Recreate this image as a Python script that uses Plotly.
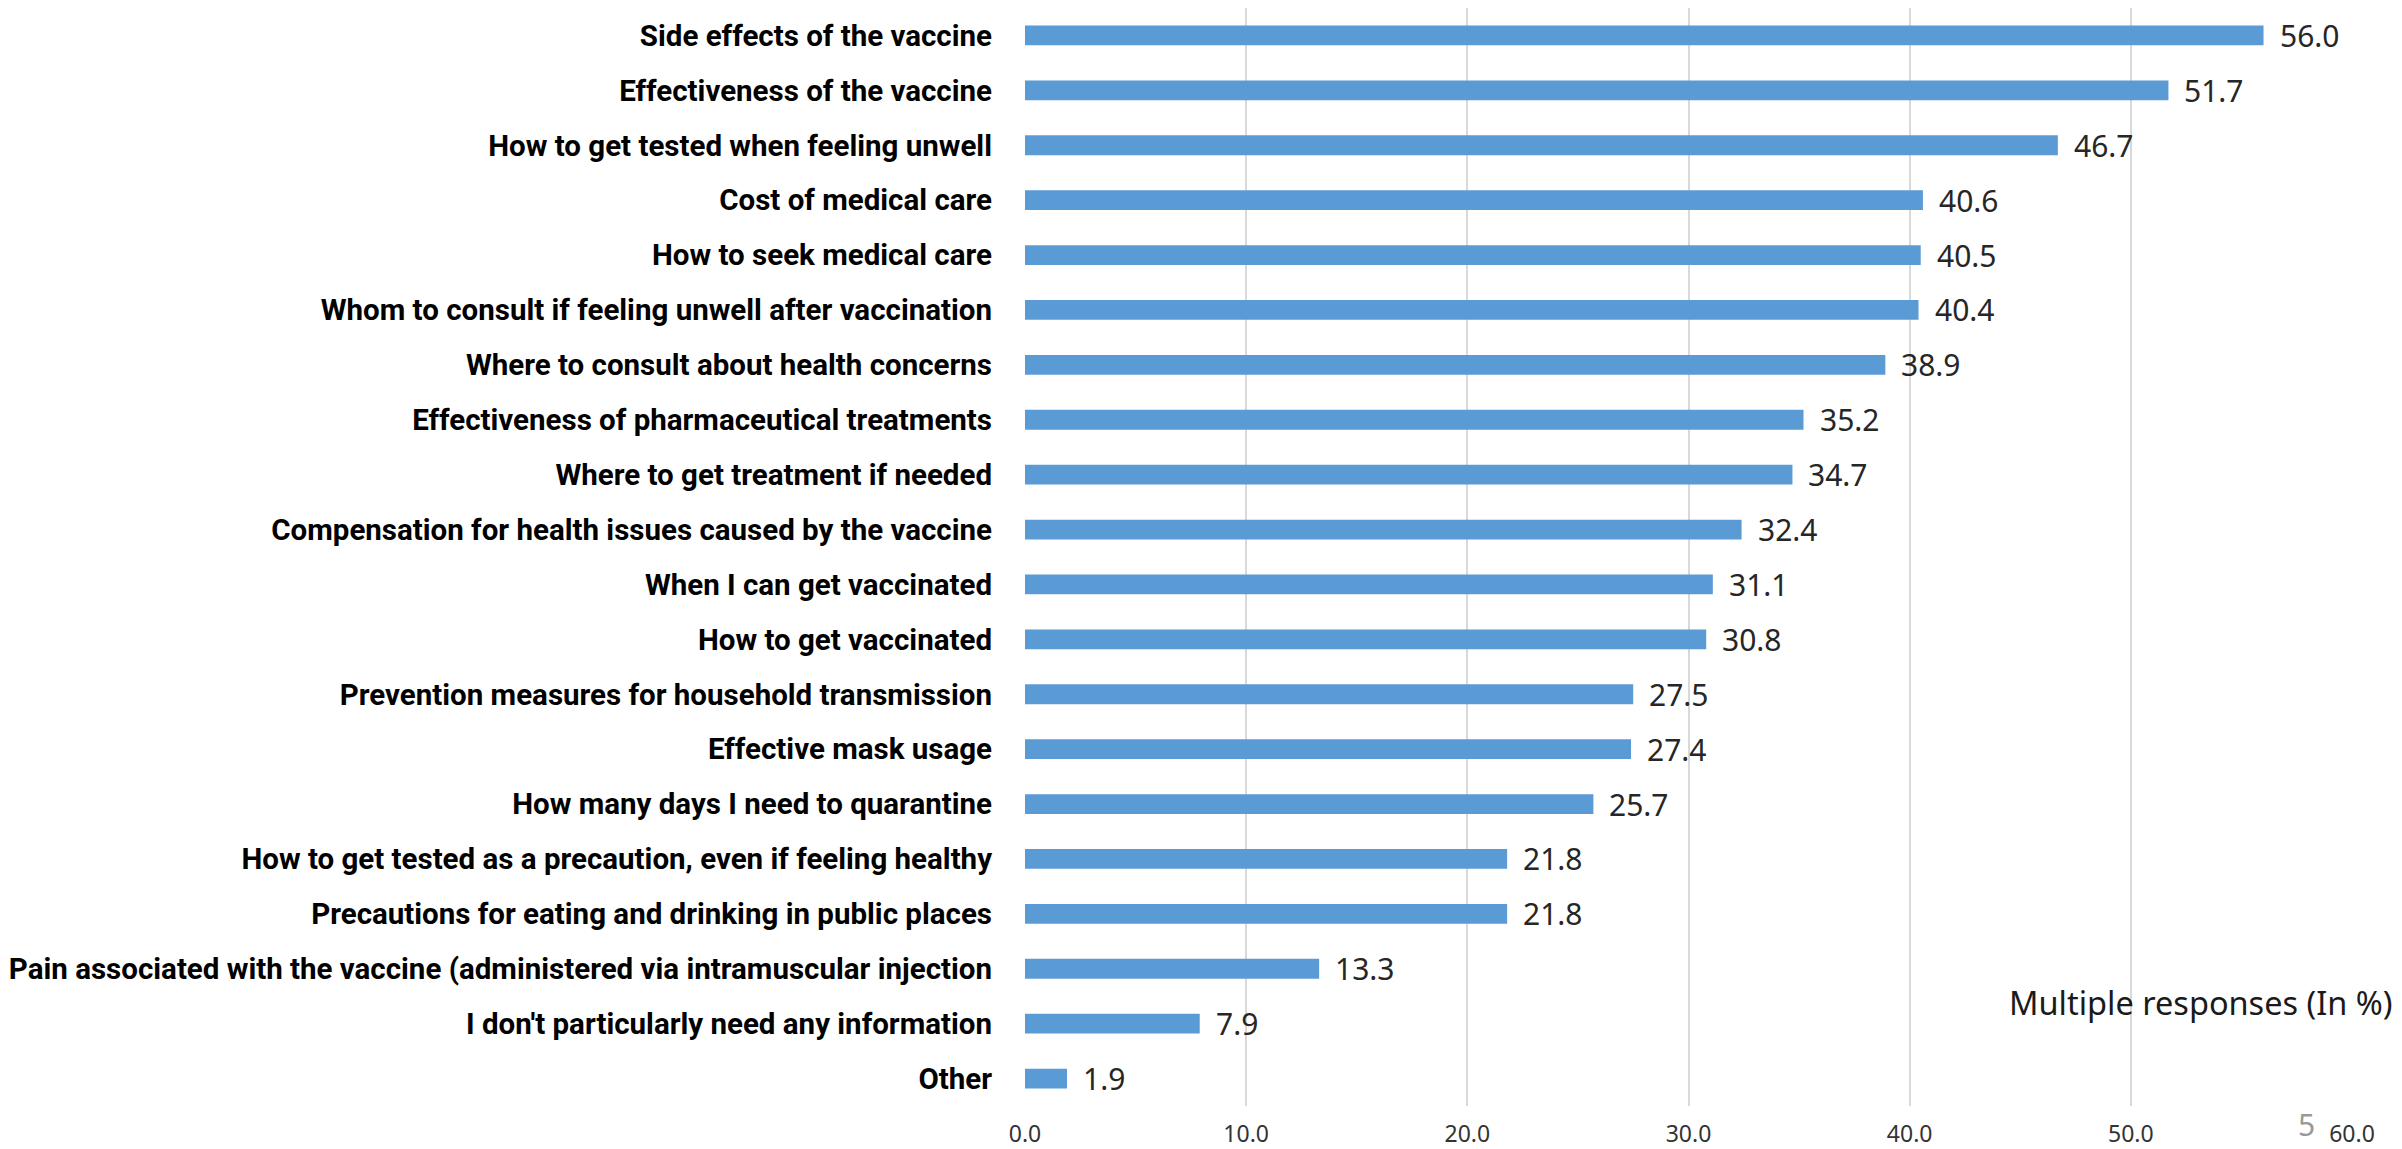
import plotly.graph_objects as go

categories = [
    "Side effects of the vaccine",
    "Effectiveness of the vaccine",
    "How to get tested when feeling unwell",
    "Cost of medical care",
    "How to seek medical care",
    "Whom to consult if feeling unwell after vaccination",
    "Where to consult about health concerns",
    "Effectiveness of pharmaceutical treatments",
    "Where to get treatment if needed",
    "Compensation for health issues caused by the vaccine",
    "When I can get vaccinated",
    "How to get vaccinated",
    "Prevention measures for household transmission",
    "Effective mask usage",
    "How many days I need to quarantine",
    "How to get tested as a precaution, even if feeling healthy",
    "Precautions for eating and drinking in public places",
    "Pain associated with the vaccine (administered via intramuscular injection",
    "I don't particularly need any information",
    "Other",
]
values = [56.0, 51.7, 46.7, 40.6, 40.5, 40.4, 38.9, 35.2, 34.7, 32.4,
          31.1, 30.8, 27.5, 27.4, 25.7, 21.8, 21.8, 13.3, 7.9, 1.9]
x_ticks = [0, 10, 20, 30, 40, 50, 60]
note_text = "Multiple responses (In %)"
page_number = "5"

BLUE = "#5B9BD5"
GRID = "#D9D9D9"

fig = go.Figure()
fig.add_trace(go.Bar(
    x=values, y=categories, orientation="h",
    marker=dict(color=BLUE, line=dict(width=0)),
    width=0.36, hoverinfo="x+y", showlegend=False,
))

# étiquettes de valeur à droite des barres
annotations = []
for cat, v in zip(categories, values):
    annotations.append(dict(
        x=v, y=cat, xref="x", yref="y", text=f"{v:.1f}", showarrow=False,
        xanchor="left", yanchor="middle", xshift=14,
        font=dict(family="Noto Sans", size=30, color="#262626"),
    ))
annotations.append(dict(
    x=1, y=0.094, xref="paper", yref="paper", text=note_text, showarrow=False,
    xanchor="right", yanchor="middle", xshift=43,
    font=dict(family="Noto Sans", size=32.5, color="#1a1a1a"),
))
annotations.append(dict(
    x=0.966, y=-0.017, xref="paper", yref="paper", text=page_number, showarrow=False,
    xanchor="center", yanchor="middle",
    font=dict(family="Noto Sans", size=30, color="#999999"),
))

fig.update_xaxes(
    range=[0, 60], tickvals=x_ticks, ticktext=[f"{t:.1f}" for t in x_ticks],
    showgrid=True, gridcolor=GRID, gridwidth=2, zeroline=False,
    showline=False, ticks="", ticklabelstandoff=12,
    tickfont=dict(family="Noto Sans", size=23, color="#333333"),
)
fig.update_yaxes(
    autorange="reversed", showgrid=False, zeroline=False, showline=False, ticks="",
    ticklabelstandoff=32,
    tickfont=dict(family="Roboto", size=29.5, color="#000000", weight="bold"),
)
# la page a une marge de 8 px autour du graphique
fig.update_layout(
    width=2394, height=1141,
    margin=dict(l=1017, r=50, t=0, b=43, autoexpand=False),
    plot_bgcolor="white", paper_bgcolor="white",
    bargap=0.64,
    annotations=annotations,
)

fig.write_html("out.html")
